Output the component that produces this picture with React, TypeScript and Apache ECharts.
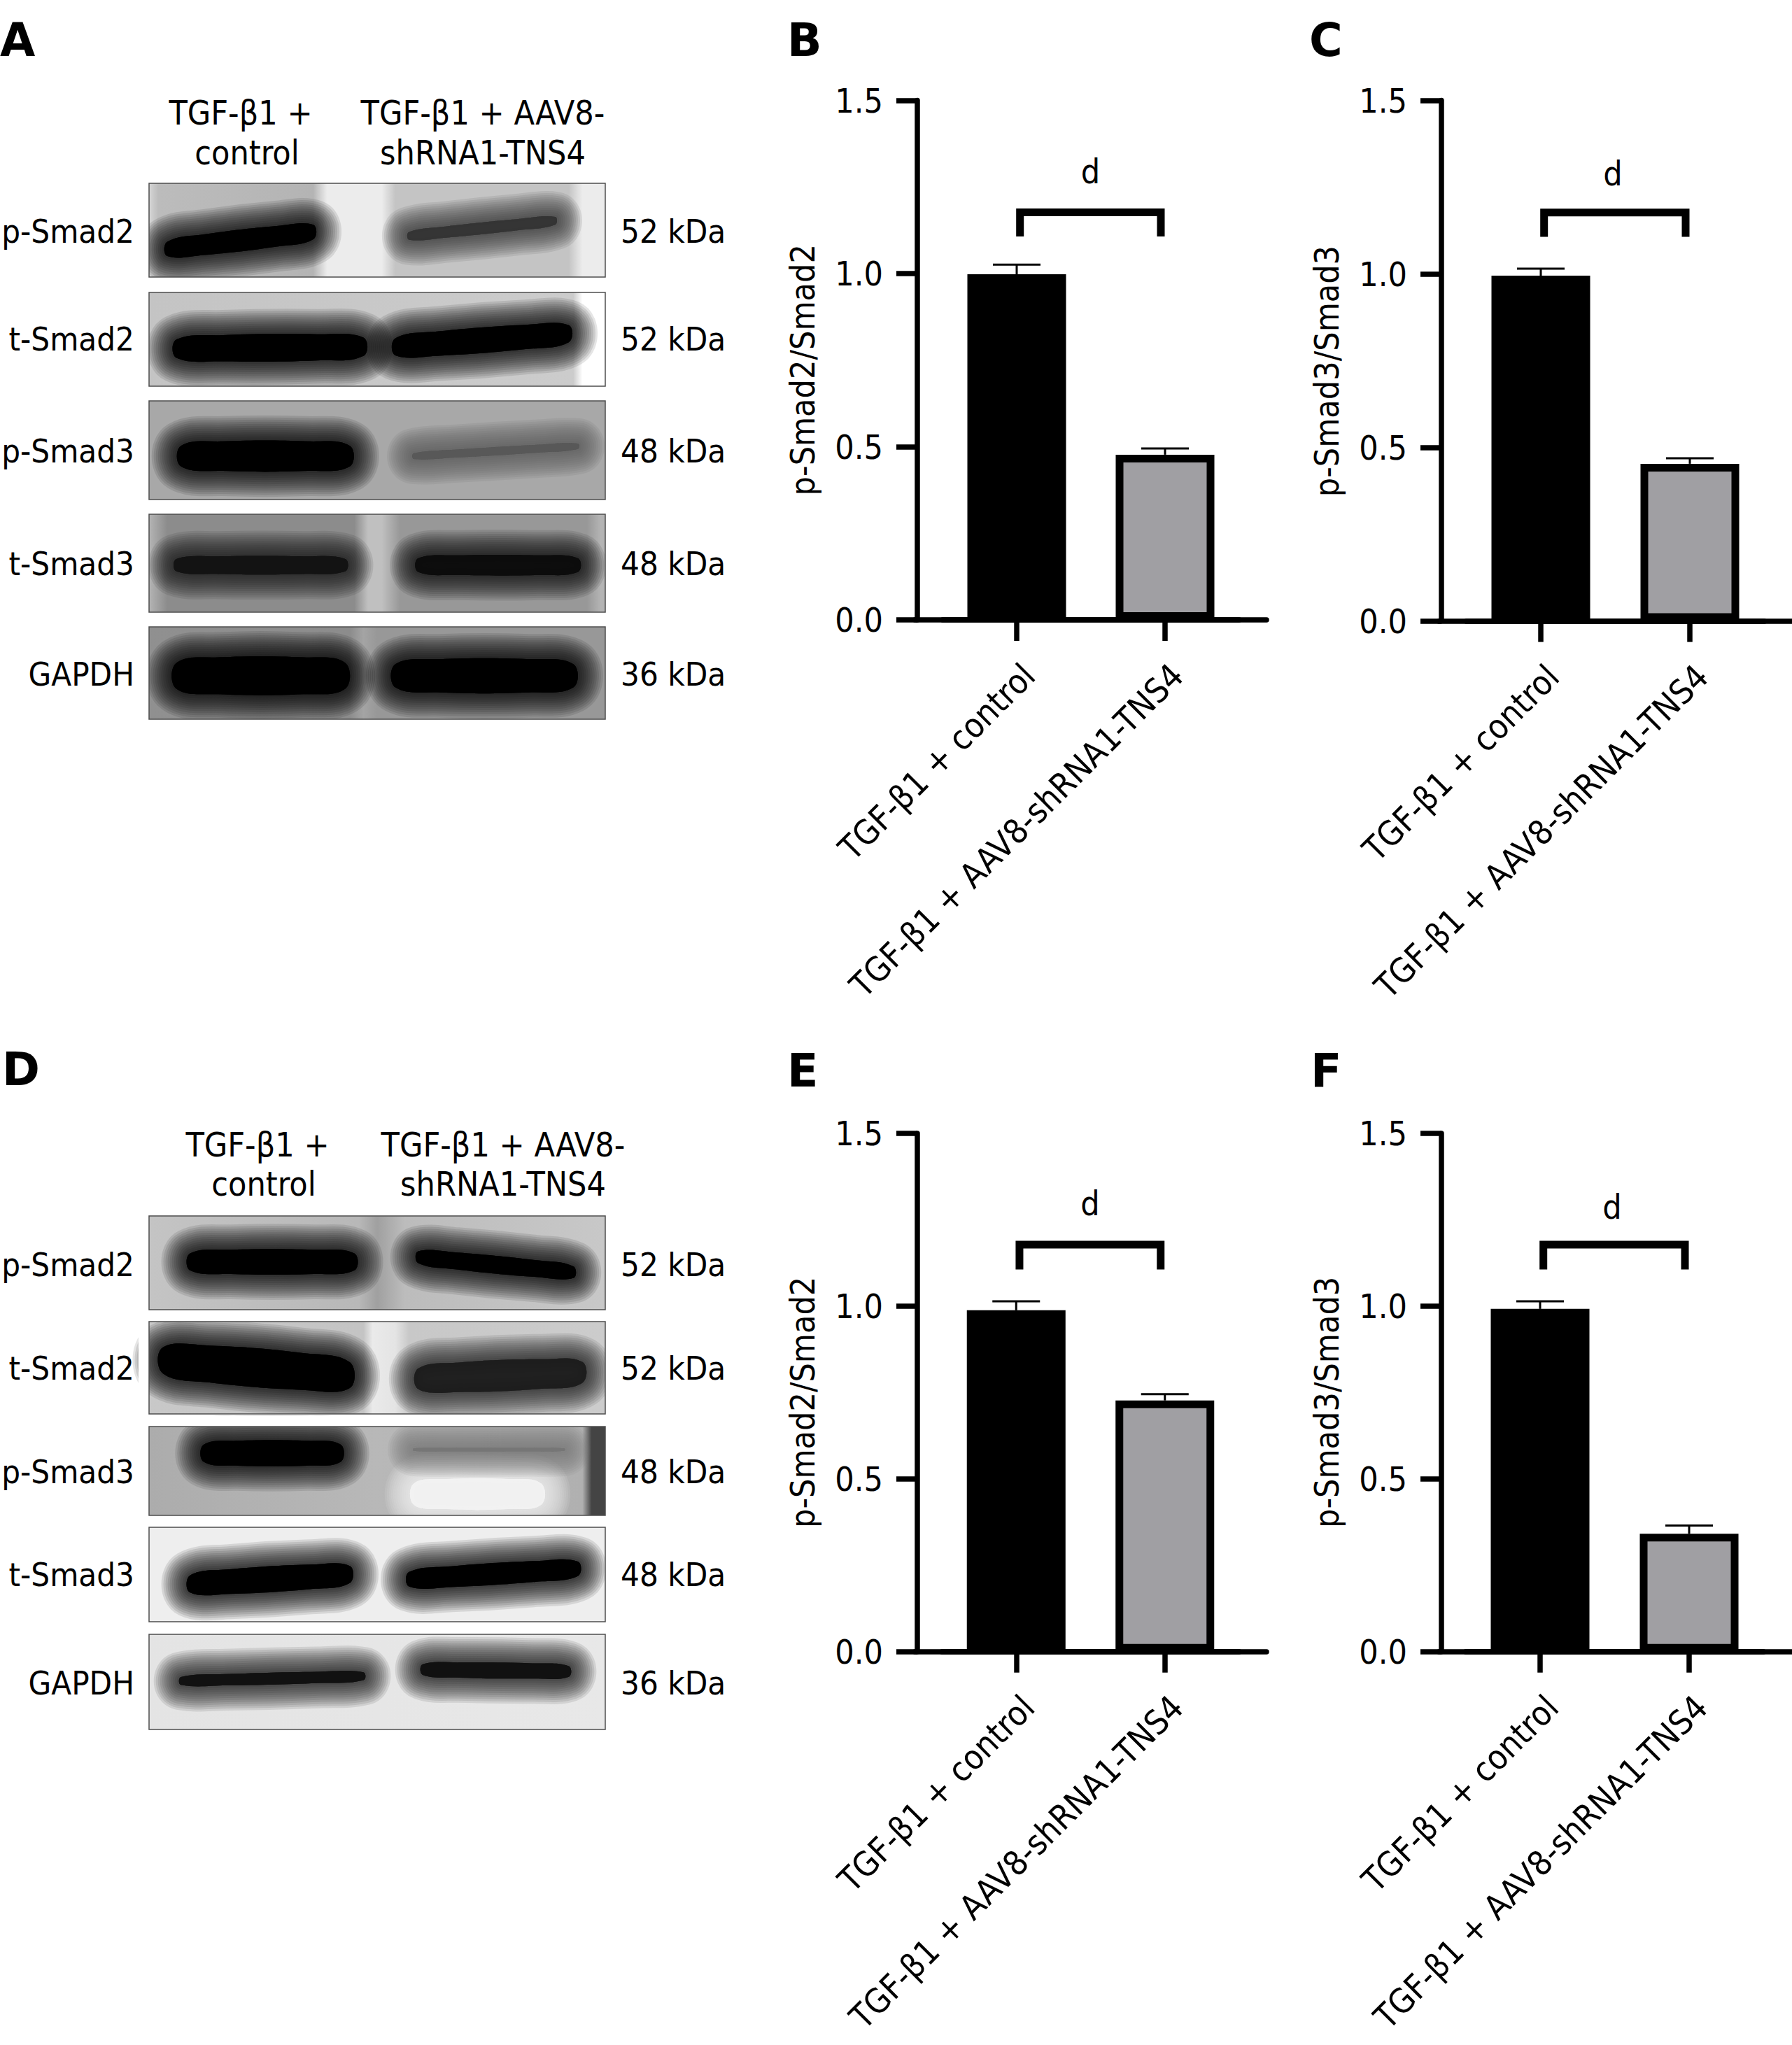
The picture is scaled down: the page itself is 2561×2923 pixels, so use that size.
import React, { useEffect, useRef } from "react";
import * as echarts from "echarts";

const FONT = '"DejaVu Sans Condensed", "DejaVu Sans", sans-serif';
const BOLD = '"DejaVu Sans", sans-serif';
const FS = 48;

const groupNames = ["TGF-β1 + control", "TGF-β1 + AAV8-shRNA1-TNS4"];
const ratioB = [0.998, 0.477];
const ratioC = [0.995, 0.453];
const ratioE = [0.988, 0.727];
const ratioF = [0.992, 0.341];
const errTopB = [1.026, 0.495];
const errTopC = [1.015, 0.469];
const errTopE = [1.014, 0.745];
const errTopF = [1.014, 0.365];
const yTitles = ["p-Smad2/Smad2", "p-Smad3/Smad3", "p-Smad2/Smad2", "p-Smad3/Smad3"];
const sigLabel = "d";
const blotRows = ["p-Smad2", "t-Smad2", "p-Smad3", "t-Smad3", "GAPDH"];
const blotSizes = ["52 kDa", "52 kDa", "48 kDa", "48 kDa", "36 kDa"];

type Band = [number, number, number, number, number, string, number];
// x0, x1, yLeft, yRight, height (fractions of the blot), colour, core alpha
const blotA: { stops: [number, string][]; bands: Band[] }[] = [
  {
    stops: [[0, "#d6d6d6"], [0.02, "#bcbcbc"], [0.36, "#b4b4b4"], [0.39, "#ececec"], [0.51, "#ececec"], [0.54, "#c4c4c4"], [0.92, "#c4c4c4"], [0.95, "#ececec"], [1, "#ececec"]],
    bands: [
      [0.04, 0.36, 0.7, 0.52, 0.22, "#000", 1],
      [0.57, 0.89, 0.56, 0.4, 0.12, "#333", 0.7],
    ],
  },
  {
    stops: [[0, "#c4c4c4"], [0.93, "#cccccc"], [0.95, "#ffffff"], [1, "#ffffff"]],
    bands: [
      [0.06, 0.47, 0.6, 0.58, 0.28, "#000", 1],
      [0.54, 0.92, 0.58, 0.44, 0.26, "#000", 1],
    ],
  },
  {
    stops: [[0, "#a8a8a8"], [1, "#a8a8a8"]],
    bands: [
      [0.07, 0.44, 0.56, 0.56, 0.3, "#000", 1],
      [0.58, 0.94, 0.56, 0.46, 0.08, "#555", 0.5],
    ],
  },
  {
    stops: [[0, "#b4b4b4"], [0.04, "#8c8c8c"], [0.45, "#8c8c8c"], [0.48, "#c0c0c0"], [0.51, "#c0c0c0"], [0.55, "#989898"], [0.96, "#989898"], [0.99, "#b4b4b4"], [1, "#b4b4b4"]],
    bands: [
      [0.06, 0.43, 0.52, 0.52, 0.18, "#111", 0.8],
      [0.59, 0.94, 0.52, 0.52, 0.2, "#0c0c0c", 0.85],
    ],
  },
  {
    stops: [[0, "#909090"], [0.44, "#8c8c8c"], [0.47, "#a4a4a4"], [0.5, "#989898"], [1, "#989898"]],
    bands: [
      [0.06, 0.43, 0.53, 0.53, 0.4, "#000", 1],
      [0.54, 0.93, 0.53, 0.53, 0.36, "#000", 1],
    ],
  },
];
const blotD: { stops: [number, string][]; bands: Band[] }[] = [
  {
    stops: [[0, "#c4c4c4"], [0.46, "#b8b8b8"], [0.5, "#a0a0a0"], [0.56, "#bcbcbc"], [1, "#c8c8c8"]],
    bands: [
      [0.09, 0.45, 0.49, 0.49, 0.26, "#000", 1],
      [0.59, 0.93, 0.44, 0.6, 0.18, "#000", 1],
    ],
  },
  {
    stops: [[0, "#c8c8c8"], [0.47, "#c4c4c4"], [0.49, "#eaeaea"], [0.54, "#e4e4e4"], [0.57, "#c8c8c8"], [1, "#cccccc"]],
    bands: [
      [0.03, 0.44, 0.42, 0.58, 0.4, "#000", 1],
      [0.59, 0.95, 0.62, 0.55, 0.32, "#1c1c1c", 0.8],
    ],
  },
  {
    stops: [[0, "#acacac"], [0.5, "#b8b8b8"], [0.95, "#b0b0b0"], [0.97, "#444444"], [1, "#444444"]],
    bands: [
      [0.58, 0.86, 0.76, 0.76, 0.34, "#f2f2f2", 0.9],
      [0.12, 0.42, 0.3, 0.3, 0.28, "#000", 1],
      [0.58, 0.91, 0.26, 0.26, 0.04, "#777", 0.6],
    ],
  },
  {
    stops: [[0, "#eeeeee"], [1, "#eeeeee"]],
    bands: [
      [0.09, 0.44, 0.6, 0.5, 0.26, "#000", 1],
      [0.57, 0.94, 0.55, 0.44, 0.22, "#000", 1],
    ],
  },
  {
    stops: [[0, "#e4e4e4"], [1, "#e8e8e8"]],
    bands: [
      [0.07, 0.47, 0.49, 0.44, 0.12, "#111", 1],
      [0.6, 0.92, 0.37, 0.39, 0.16, "#111", 1],
    ],
  },
];

const framesA: [number, number][] = [[262, 396], [418, 552], [573, 714], [735, 875], [896, 1028]];
const framesD: [number, number][] = [[1738, 1872], [1889, 2021], [2039, 2166], [2183, 2318], [2336, 2472]];
const rowYA = [330, 484, 644, 805, 963];
const rowYD = [1807, 1955, 2103, 2250, 2405];
const BX0 = 213;
const BX1 = 865;
const LAYERS = 12;
const LAYER_STEP = 3;

function blotElements(rows: typeof blotA, frames: [number, number][]) {
  const out: any[] = [];
  const w = BX1 - BX0;
  rows.forEach((r, i) => {
    const [y0, y1] = frames[i];
    const h = y1 - y0;
    out.push({
      type: "rect",
      shape: { x: BX0, y: y0, width: w, height: h },
      style: {
        fill: new echarts.graphic.LinearGradient(0, 0, 1, 0, r.stops.map(([offset, color]) => ({ offset, color }))),
      },
    });
    r.bands.forEach(([a, b, yl, yr, th, color, core]) => {
      const xa = BX0 + a * w;
      const xb = BX0 + b * w;
      const yla = y0 + yl * h;
      const yra = y0 + yr * h;
      const t = (th * h) / 2;
      const pts = [
        [xa, yla - t * 0.7],
        [xa + 0.25 * (xb - xa), yla * 0.75 + yra * 0.25 - t],
        [xa + 0.75 * (xb - xa), yla * 0.25 + yra * 0.75 - t],
        [xb, yra - t * 0.7],
        [xb, yra + t * 0.7],
        [xa + 0.75 * (xb - xa), yla * 0.25 + yra * 0.75 + t],
        [xa + 0.25 * (xb - xa), yla * 0.75 + yra * 0.25 + t],
        [xa, yla + t * 0.7],
      ];
      for (let k = LAYERS; k >= 0; k--) {
        out.push({
          type: "polygon",
          shape: { points: pts, smooth: 0.4 },
          style: {
            fill: color,
            stroke: color,
            lineWidth: Math.max(k * LAYER_STEP * 2, 0.01),
            lineJoin: "round",
            opacity: k === 0 ? core : 0.1,
          },
        });
      }
    });
    const m = 15;
    [
      [BX0 - m, y0 - m, w + 2 * m, m],
      [BX0 - m, y1, w + 2 * m, m],
      [BX0 - m, y0, m, h],
      [BX1, y0, m, h],
    ].forEach(([x, y, width, height]) => {
      out.push({ type: "rect", shape: { x, y, width, height }, style: { fill: "#fff" } });
    });
    out.push({
      type: "rect",
      shape: { x: BX0, y: y0, width: w, height: h },
      style: { fill: "none", stroke: "#4d4d4d", lineWidth: 1.5 },
    });
  });
  return out;
}

const txt = (text: string, x: number, y: number, align: string, font = FONT, size = FS, weight = "normal") => ({
  type: "text",
  x,
  y,
  style: { text, align, verticalAlign: "middle", fontFamily: font, fontSize: size, fontWeight: weight, fill: "#000" },
});

function panelTexts(rowY: number[], headY: number[], headX: [number, number, number, number]) {
  const out: any[] = [];
  blotRows.forEach((name, i) => {
    out.push(txt(name, 192, rowY[i], "right", FONT, 47));
    out.push(txt(blotSizes[i], 887, rowY[i], "left", FONT, 47));
  });
  out.push(txt("TGF-β1 +", headX[0], headY[0], "center"));
  out.push(txt("control", headX[1], headY[1], "center"));
  out.push(txt("TGF-β1 + AAV8-", headX[2], headY[0], "center"));
  out.push(txt("shRNA1-TNS4", headX[3], headY[1], "center"));
  return out;
}

const letters: [string, number, number][] = [
  ["A", 0, 57], ["B", 1125, 57], ["C", 1871, 57],
  ["D", 3, 1528], ["E", 1125, 1530], ["F", 1873, 1530],
];

const chartsLayout = [
  { axisX: 1311, plotL: 1347, plotW: 424, top: 143.5, y0: 886, right: 1810, yt: 0, vals: ratioB, errs: errTopB, brTop: 1.177, brBot: 1.107, d: 1.294, dx: 0, yShift: 14 },
  { axisX: 2060, plotL: 2095.5, plotW: 426, top: 143.5, y0: 887.6, right: 2561, yt: 1, vals: ratioC, errs: errTopC, brTop: 1.177, brBot: 1.107, d: 1.29, dx: -3, yShift: 15 },
  { axisX: 1311, plotL: 1346, plotW: 425, top: 1620, y0: 2360.7, right: 1810, yt: 2, vals: ratioE, errs: errTopE, brTop: 1.178, brBot: 1.106, d: 1.297, dx: 0, yShift: 14 },
  { axisX: 2060, plotL: 2094.5, plotW: 426, top: 1620, y0: 2360.7, right: 2561, yt: 3, vals: ratioF, errs: errTopF, brTop: 1.178, brBot: 1.106, d: 1.287, dx: -3, yShift: 14 },
];

function buildOption() {
  const grid: any[] = [];
  const xAxis: any[] = [];
  const yAxis: any[] = [];
  const series: any[] = [];
  const LW = 7.5;
  chartsLayout.forEach((c, i) => {
    grid.push({ left: c.plotL, width: c.plotW, top: c.top, height: c.y0 - c.top, containLabel: false });
    xAxis.push({
      type: "category",
      gridIndex: i,
      data: groupNames,
      axisLine: { show: true, lineStyle: { color: "#000", width: LW } },
      axisTick: { show: true, alignWithLabel: true, length: 30, lineStyle: { color: "#000", width: LW } },
      axisLabel: { interval: 0, rotate: 45, margin: 54, verticalAlign: "top", fontFamily: FONT, fontSize: 48.5, color: "#000" },
    });
    yAxis.push({
      type: "value",
      gridIndex: i,
      min: 0,
      max: 1.5,
      interval: 0.5,
      offset: c.plotL - c.axisX,
      splitLine: { show: false },
      axisLine: { show: true, onZero: false, lineStyle: { color: "#000", width: LW } },
      axisTick: { show: true, length: 30, lineStyle: { color: "#000", width: LW } },
      axisLabel: { margin: 49, fontFamily: FONT, fontSize: FS, color: "#000", formatter: (v: number) => v.toFixed(1) },
      name: yTitles[c.yt],
      nameLocation: "middle",
      nameGap: 140,
      nameRotate: 90,
      nameTextStyle: { fontFamily: FONT, fontSize: FS, color: "#000", padding: [0, c.yShift * 2, 0, 0] },
    });
    series.push({
      type: "custom",
      xAxisIndex: i,
      yAxisIndex: i,
      z: 1,
      data: c.errs.map((e, k) => [k, c.vals[k], e]),
      renderItem: (_: any, api: any) => {
        const p0 = api.coord([api.value(0), api.value(1)]);
        const p1 = api.coord([api.value(0), api.value(2)]);
        const style = { stroke: "#000", lineWidth: 3, fill: "none" };
        return {
          type: "group",
          children: [
            { type: "line", shape: { x1: p0[0], y1: p0[1], x2: p1[0], y2: p1[1] }, style },
            { type: "line", shape: { x1: p1[0] - 34, y1: p1[1], x2: p1[0] + 34, y2: p1[1] }, style },
          ],
        };
      },
    });
    series.push({
      type: "bar",
      xAxisIndex: i,
      yAxisIndex: i,
      z: 2,
      barWidth: 141,
      data: c.vals.map((v, k) => ({
        value: v,
        itemStyle: { color: k === 0 ? "#000" : "#a09fa3", borderColor: "#000", borderWidth: 11 },
      })),
    });
    series.push({
      type: "custom",
      xAxisIndex: i,
      yAxisIndex: i,
      z: 3,
      data: [[0, 1, c.brTop, c.brBot, c.d, c.dx]],
      renderItem: (_: any, api: any) => {
        const a = api.coord([api.value(0), api.value(2)]);
        const b = api.coord([api.value(1), api.value(2)]);
        const la = api.coord([api.value(0), api.value(3)]);
        const dp = api.coord([api.value(1), api.value(4)]);
        const xl = a[0] + 4.7;
        const xr = b[0] - 6;
        return {
          type: "group",
          children: [
            {
              type: "polyline",
              shape: { points: [[xl, la[1]], [xl, a[1]], [xr, a[1]], [xr, la[1]]] },
              style: { stroke: "#000", lineWidth: 11, fill: "none", lineJoin: "miter" },
            },
            {
              type: "text",
              style: {
                text: sigLabel,
                x: (xl + xr) / 2 + api.value(5),
                y: dp[1],
                align: "center",
                verticalAlign: "middle",
                fontFamily: FONT,
                fontSize: FS,
                fill: "#000",
              },
            },
          ],
        };
      },
    });
  });
  // the bottom axis line of each plot runs past the bars on both sides, as its own empty axis
  chartsLayout.forEach((c) => {
    const g = grid.length;
    grid.push({ left: c.axisX - 3.5, width: c.right - c.axisX + 3.5, top: c.top, height: c.y0 - c.top });
    xAxis.push({
      type: "value",
      gridIndex: g,
      min: 0,
      max: 1,
      axisLine: { show: true, onZero: false, lineStyle: { color: "#000", width: LW } },
      axisTick: { show: false },
      axisLabel: { show: false },
      splitLine: { show: false },
    });
    yAxis.push({ type: "value", gridIndex: g, min: 0, max: 1, show: false });
  });
  const graphic = [
    ...blotElements(blotA, framesA),
    ...blotElements(blotD, framesD),
    ...panelTexts(rowYA, [161, 218], [344, 353, 690, 690]),
    ...panelTexts(rowYD, [1636, 1692], [368, 377, 719, 719]),
    ...letters.map(([t, x, y]) => txt(t, x, y, "left", BOLD, 65, "bold")),
  ];
  return { animation: false, backgroundColor: "#fff", grid, xAxis, yAxis, series, graphic };
}

export default function App() {
  const ref = useRef<HTMLDivElement>(null);
  useEffect(() => {
    const chart = echarts.init(ref.current!, undefined, { renderer: "svg" });
    chart.setOption(buildOption() as any);
    return () => chart.dispose();
  }, []);
  return <div ref={ref} style={{ position: "absolute", left: 0, top: 0, width: 2561, height: 2923 }} />;
}
